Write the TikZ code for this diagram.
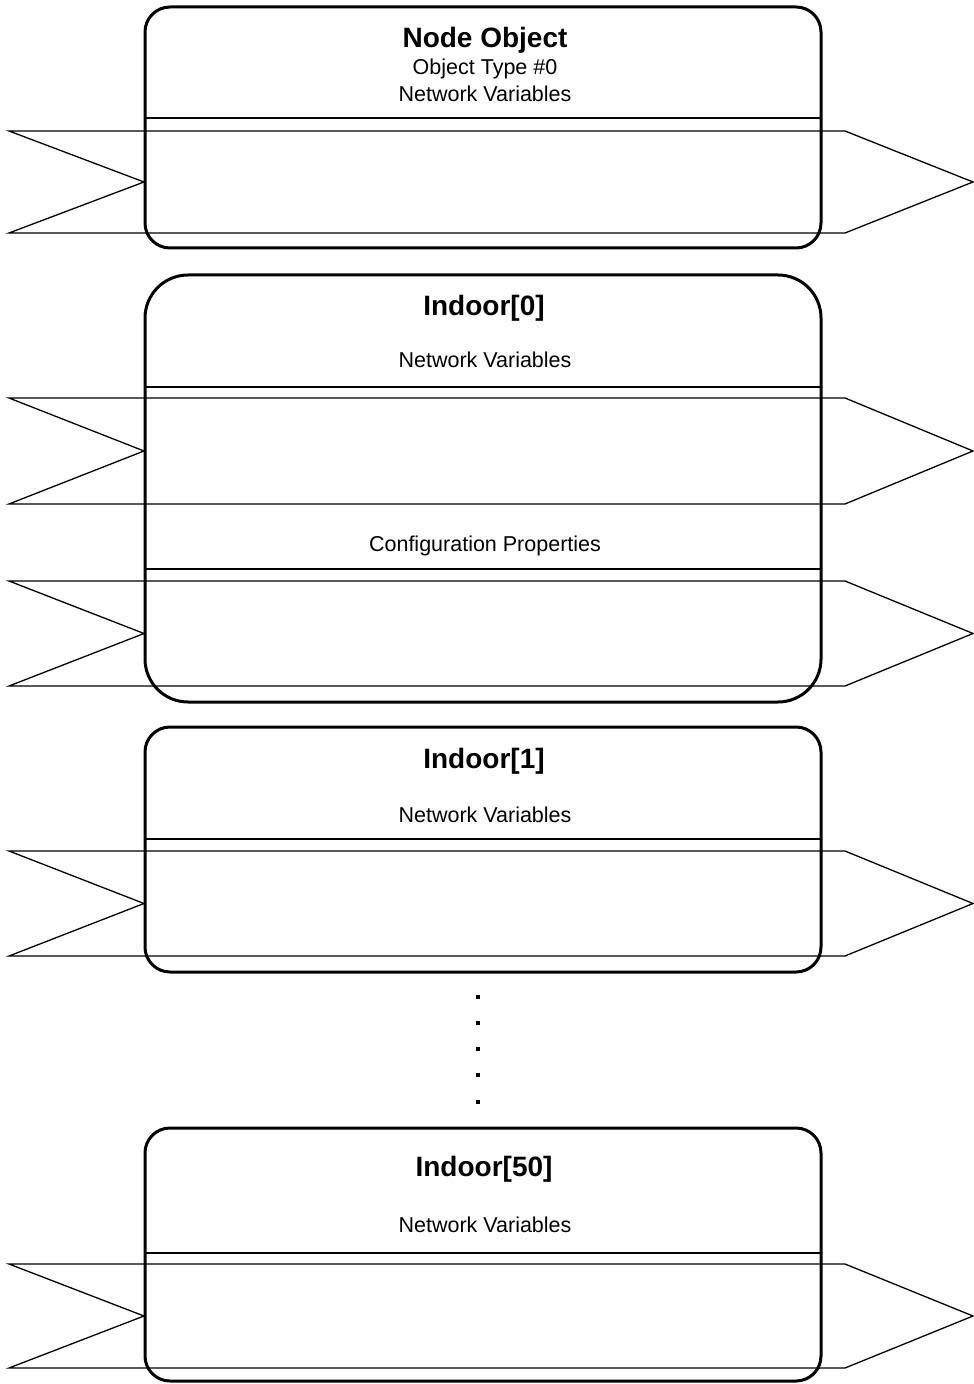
\documentclass[tikz,border=0pt]{standalone}
\usepackage{fontspec}
\setmainfont{Liberation Sans}
\begin{document}
\begin{tikzpicture}[x=0.5pt,y=-0.5pt,
  band/.style={draw=black,line width=0.65pt,line join=miter},
  objbox/.style={draw=black,line width=1.5pt},
  hline/.style={draw=black,line width=1pt},
  ttl/.style={anchor=base,inner sep=0pt,font=\fontsize{14}{16}\selectfont\bfseries},
  lbl/.style={anchor=base,inner sep=0pt,font=\fontsize{10.75}{13}\selectfont},
  dotmark/.style={fill=black,draw=none,minimum size=2pt,inner sep=0pt,shape=rectangle}]
\useasboundingbox (0,0) rectangle (973,1384);
% bands
\foreach \t/\b in {131/233,398/504,581/686,851/956,1264/1368}{
  \draw[band] (9,\t) -- (845,\t) -- (973,{(\t+\b)/2}) -- (845,\b) -- (9,\b) -- (144,{(\t+\b)/2}) -- cycle;
}
% boxes
\draw[objbox,rounded corners=12.5pt] (145,7) rectangle (821,248);
\draw[objbox,rounded corners=21.5pt] (145,275) rectangle (821,702);
\draw[objbox,rounded corners=12.5pt] (145,727) rectangle (821,972);
\draw[objbox,rounded corners=12.5pt] (145,1128) rectangle (821,1381);
% header lines
\draw[hline] (145,118) -- (821,118);
\draw[hline] (145,387) -- (821,387);
\draw[hline] (145,569) -- (821,569);
\draw[hline] (145,839) -- (821,839);
\draw[hline] (145,1253) -- (821,1253);
% texts
\node[ttl] (t0) at (485,48) {Node Object};
\node[lbl] (t0a) at (485,75) {Object Type \#0};
\node[lbl] (t0b) at (485,101.5) {Network Variables};
\node[ttl] (t1) at (484,315.5) {Indoor[0]};
\node[lbl] (t1a) at (485,368) {Network Variables};
\node[lbl] (t1b) at (485,551) {Configuration Properties};
\node[ttl] (t2) at (484,768.5) {Indoor[1]};
\node[lbl] (t2a) at (485,822.5) {Network Variables};
\node[ttl] (t3) at (484,1176) {Indoor[50]};
\node[lbl] (t3a) at (485,1232) {Network Variables};
% dots
\foreach \y [count=\i] in {997,1023,1049,1075,1102}{
  \node[dotmark] (d\i) at (478,\y) {};
}
\end{tikzpicture}
\end{document}
